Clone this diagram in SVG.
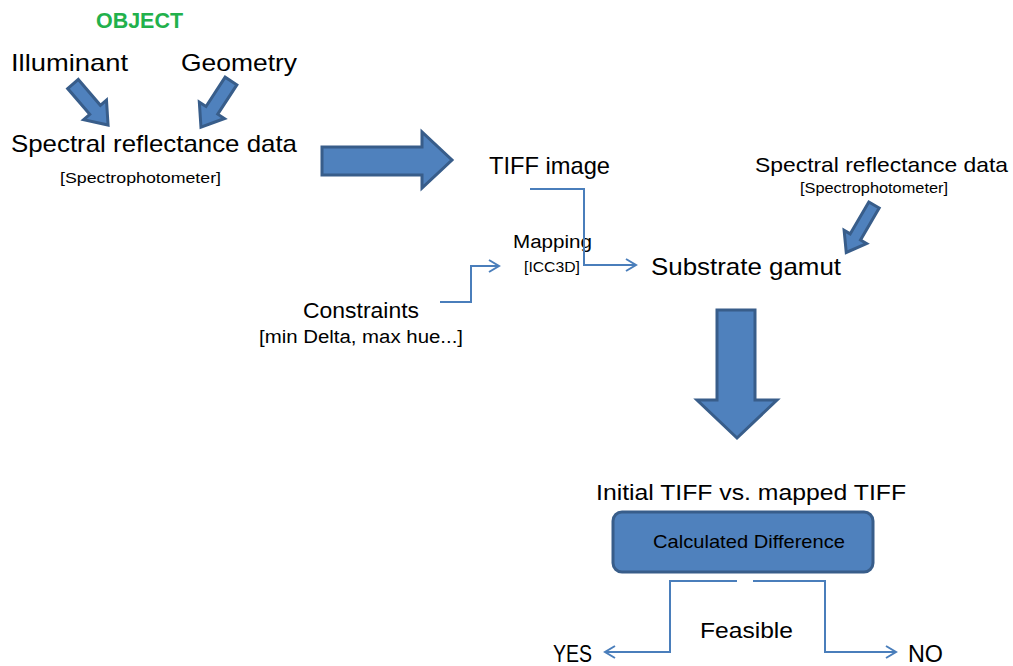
<svg xmlns="http://www.w3.org/2000/svg" width="1013" height="666" viewBox="0 0 1013 666">
<style>
text{font-family:"Liberation Sans",Arial,sans-serif;fill:#000}
.t24{font-size:24px}
.t22{font-size:22px}
.t18{font-size:18px}
.t15{font-size:15px}
.blk{fill:#4f81bd;stroke:#385d8a;stroke-width:3;stroke-linejoin:miter}
.con{fill:none;stroke:#4a7ebb;stroke-width:2}
</style>
<defs>
<marker id="open" markerWidth="14" markerHeight="14" refX="11" refY="7" orient="auto" markerUnits="userSpaceOnUse">
<path d="M1,1 L11,7 L1,13" fill="none" stroke="#4a7ebb" stroke-width="2"/>
</marker>
</defs>
<rect width="1013" height="666" fill="#fff"/>
<g id="object"><text x="96" y="28" style="font-size:22px;font-weight:bold;fill:#22b14c" textLength="87" lengthAdjust="spacingAndGlyphs">OBJECT</text></g>
<g id="illuminant"><text class="t24" x="11" y="71" textLength="117" lengthAdjust="spacingAndGlyphs">Illuminant</text></g>
<g id="geometry"><text class="t24" x="181" y="71" textLength="116" lengthAdjust="spacingAndGlyphs">Geometry</text></g>
<g id="spectral1">
<text class="t24" x="11" y="152" textLength="286" lengthAdjust="spacingAndGlyphs">Spectral reflectance data</text>
<text class="t15" x="60" y="183" textLength="161" lengthAdjust="spacingAndGlyphs">[Spectrophotometer]</text>
</g>
<g id="tiff"><text class="t24" x="489" y="174" textLength="121" lengthAdjust="spacingAndGlyphs">TIFF image</text></g>
<g id="mapping">
<text class="t18" x="513" y="248" textLength="79" lengthAdjust="spacingAndGlyphs">Mapping</text>
<text class="t15" x="524" y="272" textLength="56" lengthAdjust="spacingAndGlyphs">[ICC3D]</text>
</g>
<g id="constraints">
<text class="t22" x="303" y="318" textLength="116" lengthAdjust="spacingAndGlyphs">Constraints</text>
<text class="t18" x="259" y="343" textLength="204" lengthAdjust="spacingAndGlyphs">[min Delta, max hue...]</text>
</g>
<g id="gamut"><text class="t24" x="651" y="275" textLength="190" lengthAdjust="spacingAndGlyphs">Substrate gamut</text></g>
<g id="spectral2">
<text style="font-size:21px" x="755" y="172" textLength="253" lengthAdjust="spacingAndGlyphs">Spectral reflectance data</text>
<text style="font-size:14px" x="800" y="193" textLength="148" lengthAdjust="spacingAndGlyphs">[Spectrophotometer]</text>
</g>
<g id="initial"><text class="t22" x="596" y="500" textLength="310" lengthAdjust="spacingAndGlyphs">Initial TIFF vs. mapped TIFF</text></g>
<g id="difference">
<rect class="blk" x="613" y="512" width="260" height="60" rx="9"/>
<text style="font-size:19px" x="653" y="548" textLength="192" lengthAdjust="spacingAndGlyphs">Calculated Difference</text>
</g>
<g id="feasible"><text class="t22" x="700" y="638" textLength="93" lengthAdjust="spacingAndGlyphs">Feasible</text></g>
<g id="yes"><text class="t24" x="553" y="662" textLength="39" lengthAdjust="spacingAndGlyphs">YES</text></g>
<g id="no"><text class="t24" x="908" y="662" textLength="35" lengthAdjust="spacingAndGlyphs">NO</text></g>
<g id="connectors">
<polygon class="blk" transform="translate(73,84) rotate(49.5)" points="0,-7 34,-7 34,-15 54,0 34,15 34,7 0,7"/>
<polygon class="blk" transform="translate(231,81) rotate(123.1)" points="0,-7 35,-7 35,-15 55,0 35,15 35,7 0,7"/>
<polygon class="blk" transform="translate(874,205) rotate(120.3)" points="0,-6 37,-6 37,-13 55,0 37,13 37,6 0,6"/>
<polygon class="blk" points="322,147 422,147 422,132 452,160 422,188 422,175 322,175"/>
<polygon class="blk" points="717,310 755,310 755,400 777,400 737,438 697,400 717,400"/>
<polyline class="con" points="530,189 584,189 584,265 636,265" marker-end="url(#open)"/>
<polyline class="con" points="440,302 471,302 471,266 499,266" marker-end="url(#open)"/>
<polyline class="con" points="737,581 670,581 670,652 605,652" marker-end="url(#open)"/>
<polyline class="con" points="753,581 825,581 825,652 896,652" marker-end="url(#open)"/>
</g>
</svg>
